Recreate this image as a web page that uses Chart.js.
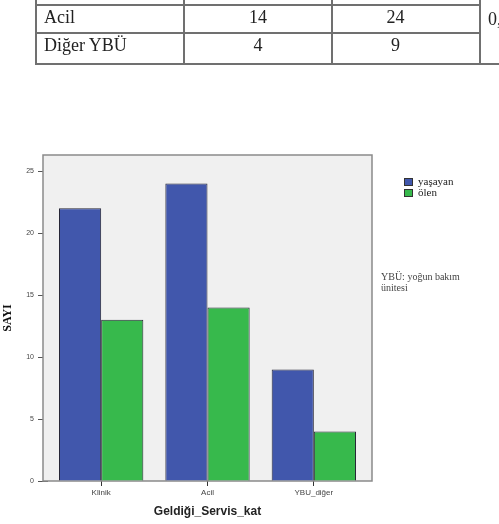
<!DOCTYPE html>
<html>
<head>
<meta charset="utf-8">
<script src="https://cdn.jsdelivr.net/npm/chart.js@4.4.0/dist/chart.umd.min.js"></script>
<style>
    html, body { margin: 0; padding: 0; background: #fff; width: 499px; height: 524px; overflow: hidden; }
    #grafik { position: absolute; left: 0; top: 0; }
    #tablo {
        position: absolute; left: 35px; top: -26px; z-index: 2; width: 524px;
        border-collapse: collapse; table-layout: fixed;
        font-family: 'Liberation Serif', 'Times New Roman', serif; font-size: 18px; color: #222;
    }
    #tablo td { border: 2px solid #707070; padding: 0; overflow: hidden; }
    #tablo td.ad { padding-left: 7px; }
    #tablo td.sayi { text-align: center; }
    #tablo td.sayi2 { text-align: center; padding-right: 21px; }
    #tablo td.p { padding-left: 7px; vertical-align: middle; white-space: nowrap; }
</style>
</head>
<body>
<table id="tablo">
    <colgroup><col style="width:148px"><col style="width:148px"><col style="width:148px"><col style="width:80px"></colgroup>
    <tbody id="tabloGovde"></tbody>
</table>
<canvas id="grafik" width="499" height="524"></canvas>
<script>
// Veriler
const kategoriler = ['Klinik', 'Acil', 'YBU_diğer'];
const yasayan = [22, 24, 9];
const olen = [13, 14, 4];
const seriAdlari = ['yaşayan', 'ölen'];
const renkler = ['#4157ac', '#37b94c'];
const notSatirlari = ['YBÜ: yoğun bakım', 'ünitesi'];

// Tablo (üst kısmı sayfa dışında kalıyor)
const tabloAdlar = ['Acil', 'Diğer YBÜ'];
const tabloOlen = [14, 4];
const tabloYasayan = [24, 9];
const pDegeri = '0,05';

const govde = document.getElementById('tabloGovde');
let html = '<tr style="height:30px"><td></td><td></td><td></td>' +
           '<td class="p" rowspan="3">' + pDegeri + '</td></tr>';
tabloAdlar.forEach((ad, i) => {
    const h = i === 0 ? 26 : 29;
    const lh = i === 0 ? 'line-height:22px;padding-bottom:4px' : 'line-height:22px;padding-bottom:7px';
    html += '<tr style="height:' + h + 'px">' +
        '<td class="ad" style="' + lh + '">' + ad + '</td>' +
        '<td class="sayi" style="' + lh + '">' + tabloOlen[i] + '</td>' +
        '<td class="sayi2" style="' + lh + '">' + tabloYasayan[i] + '</td></tr>';
});
govde.innerHTML = html;

// Gri arka plan ve çerçeve
const cerceve = {
    id: 'cerceve',
    beforeDatasetsDraw(chart) {
        const { ctx, chartArea: a } = chart;
        ctx.save();
        ctx.fillStyle = '#f0f0f0';
        ctx.fillRect(a.left - 5, a.top, a.right - a.left + 10, a.bottom - a.top);
        ctx.strokeStyle = '#8a8a8a';
        ctx.lineWidth = 1.5;
        ctx.strokeRect(a.left - 5, a.top, a.right - a.left + 10, a.bottom - a.top);
        ctx.restore();
    }
};

// Lejant ve not
const lejant = {
    id: 'lejant',
    afterDraw(chart) {
        const ctx = chart.ctx;
        ctx.save();
        ctx.font = "11px 'Liberation Serif'";
        ctx.textBaseline = 'middle';
        chart.data.datasets.forEach((ds, i) => {
            const y = 178 + i * 11;
            ctx.fillStyle = ds.backgroundColor;
            ctx.fillRect(404, y, 9, 8);
            ctx.strokeStyle = '#333';
            ctx.lineWidth = 1;
            ctx.strokeRect(404.5, y + 0.5, 8, 7);
            ctx.fillStyle = '#222';
            ctx.fillText(ds.label, 418, y + 4);
        });
        ctx.font = "10px 'Liberation Serif'";
        ctx.fillStyle = '#444';
        notSatirlari.forEach((s, i) => ctx.fillText(s, 381, 277 + i * 11.5));
        ctx.restore();
    }
};

new Chart(document.getElementById('grafik'), {
    type: 'bar',
    data: {
        labels: kategoriler,
        datasets: [{
            label: seriAdlari[0],
            data: yasayan,
            backgroundColor: renkler[0],
            borderColor: '#262636',
            borderWidth: 1
        }, {
            label: seriAdlari[1],
            data: olen,
            backgroundColor: renkler[1],
            borderColor: '#262636',
            borderWidth: 1
        }]
    },
    options: {
        responsive: false,
        animation: false,
        layout: { padding: { top: 155, right: 132, bottom: 5, left: 0 } },
        datasets: { bar: { categoryPercentage: 0.793, barPercentage: 1.0 } },
        plugins: {
            legend: { display: false },
            tooltip: { enabled: false }
        },
        scales: {
            x: {
                offset: true,
                afterFit: s => { s.height = 38; },
                ticks: { color: '#444', font: { family: 'Liberation Sans', size: 8 }, padding: 2, maxRotation: 0 },
                grid: { offset: false, drawOnChartArea: false, tickLength: 5, color: '#333' },
                border: { display: false },
                title: {
                    display: true,
                    text: 'Geldiği_Servis_kat',
                    color: '#222',
                    font: { family: 'Liberation Sans', size: 12, weight: 'bold' },
                    padding: { top: 4, bottom: 0 }
                }
            },
            y: {
                min: 0,
                max: 26.3,
                afterFit: s => { s.width = 48; },
                afterBuildTicks: s => { s.ticks = s.ticks.filter(t => t.value % 5 === 0); },
                ticks: { stepSize: 5, color: '#444', font: { family: 'Liberation Sans', size: 7 }, padding: 4 },
                grid: { drawOnChartArea: false, tickLength: 10, color: '#555' },
                border: { display: false },
                title: {
                    display: true,
                    text: 'SAYI',
                    color: '#111',
                    font: { family: 'Liberation Serif', size: 12, weight: 'bold' },
                    padding: { top: 1, bottom: 0 }
                }
            }
        }
    },
    plugins: [cerceve, lejant]
});
</script>
</body>
</html>
